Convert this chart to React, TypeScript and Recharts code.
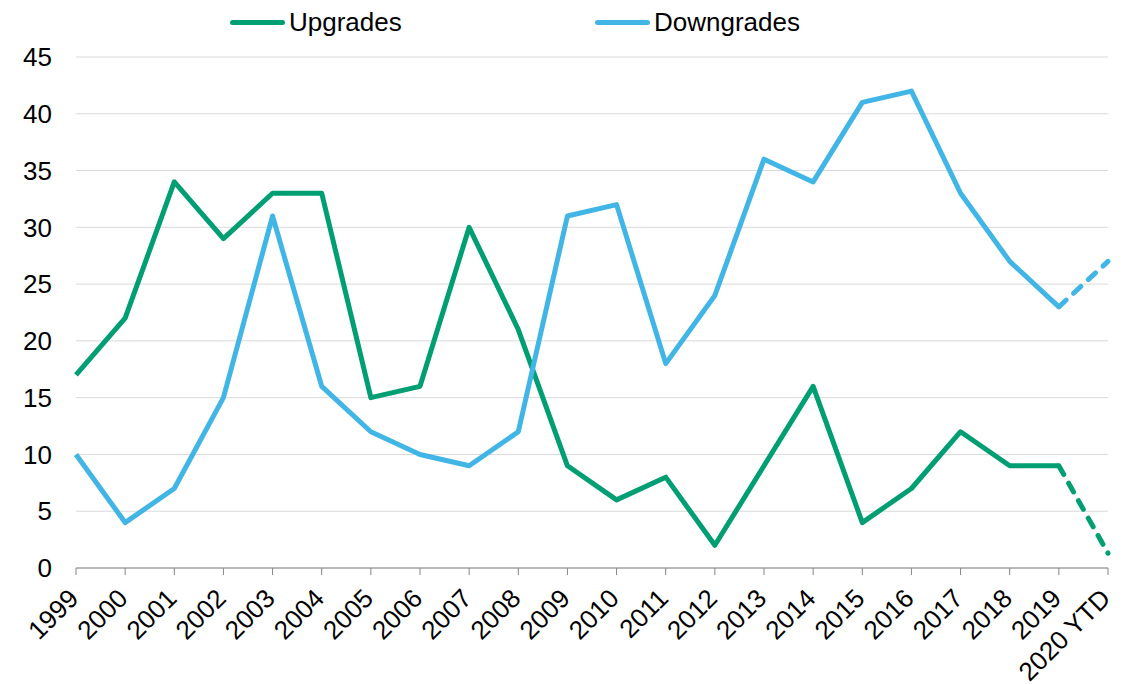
import { LineChart, Line, XAxis, YAxis, CartesianGrid } from "recharts";

const FONT = "'Liberation Sans', Arial, sans-serif";
const GREEN = "#009E73";
const BLUE = "#41B6E6";

// ── Data ───────────────────────────────────────────────────────────────────
const years = [
  "1999", "2000", "2001", "2002", "2003", "2004", "2005", "2006", "2007", "2008",
  "2009", "2010", "2011", "2012", "2013", "2014", "2015", "2016", "2017", "2018",
  "2019", "2020 YTD",
];
const upgrades = [17, 22, 34, 29, 33, 33, 15, 16, 30, 21, 9, 6, 8, 2, 9, 16, 4, 7, 12, 9, 9, 1.3];
const downgrades = [10, 4, 7, 15, 31, 16, 12, 10, 9, 12, 31, 32, 18, 24, 36, 34, 41, 42, 33, 27, 23, 27];
const yTicks = [0, 5, 10, 15, 20, 25, 30, 35, 40, 45];

// last segment (2019 → 2020 YTD) is dashed, so split it into its own series
const lastIdx = years.length - 1;
const rows = years.map((year, i) => ({
  year,
  up: i < lastIdx ? upgrades[i] : null,
  down: i < lastIdx ? downgrades[i] : null,
  upYtd: i >= lastIdx - 1 ? upgrades[i] : null,
  downYtd: i >= lastIdx - 1 ? downgrades[i] : null,
}));

// ── Rotated x tick ────────────────────────────────────────────────────────
function YearTick({ x, y, payload }: any) {
  const ax = x + 4;
  const ay = y + 25;
  return (
    <text
      x={ax}
      y={ay}
      textAnchor="end"
      transform={`rotate(-45, ${ax}, ${ay})`}
      style={{ fontFamily: FONT, fontSize: 26, fill: "#000" }}
    >
      {payload.value}
    </text>
  );
}

function LegendItem({ left, color, label }: { left: number; color: string; label: string }) {
  return (
    <div style={{ position: "absolute", left, top: 6, display: "flex", alignItems: "center" }}>
      <div style={{ width: 55, height: 5, borderRadius: 3, background: color }} />
      <span style={{ marginLeft: 4, fontFamily: FONT, fontSize: 26, color: "#000", lineHeight: "32px" }}>
        {label}
      </span>
    </div>
  );
}

export default function App() {
  return (
    <div style={{ position: "absolute", left: 0, top: 0, width: 1132, height: 684, background: "#fff" }}>
      <LineChart
        width={1132}
        height={684}
        data={rows}
        margin={{ top: 57, right: 24, bottom: 0, left: 0 }}
      >
        <CartesianGrid vertical={false} stroke="#D9D9D9" strokeWidth={1} />
        <XAxis
          dataKey="year"
          interval={0}
          height={116}
          stroke="#868686"
          tickSize={7}
          tickMargin={0}
          tick={<YearTick />}
        />
        <YAxis
          width={76}
          domain={[0, 45]}
          ticks={yTicks}
          axisLine={false}
          tickLine={false}
          tickSize={0}
          tickMargin={24}
          tick={{ fontFamily: FONT, fontSize: 26, fill: "#000" }}
        />
        <Line dataKey="up" stroke={GREEN} strokeWidth={5} dot={false} strokeLinejoin="round" isAnimationActive={false} />
        <Line dataKey="down" stroke={BLUE} strokeWidth={5} dot={false} strokeLinejoin="round" isAnimationActive={false} />
        <Line
          dataKey="upYtd"
          stroke={GREEN}
          strokeWidth={5}
          strokeDasharray="10 10"
          strokeLinecap="round"
          dot={false}
          isAnimationActive={false}
        />
        <Line
          dataKey="downYtd"
          stroke={BLUE}
          strokeWidth={5}
          strokeDasharray="10 10"
          strokeLinecap="round"
          dot={false}
          isAnimationActive={false}
        />
      </LineChart>
      <LegendItem left={230} color={GREEN} label="Upgrades" />
      <LegendItem left={595} color={BLUE} label="Downgrades" />
    </div>
  );
}
